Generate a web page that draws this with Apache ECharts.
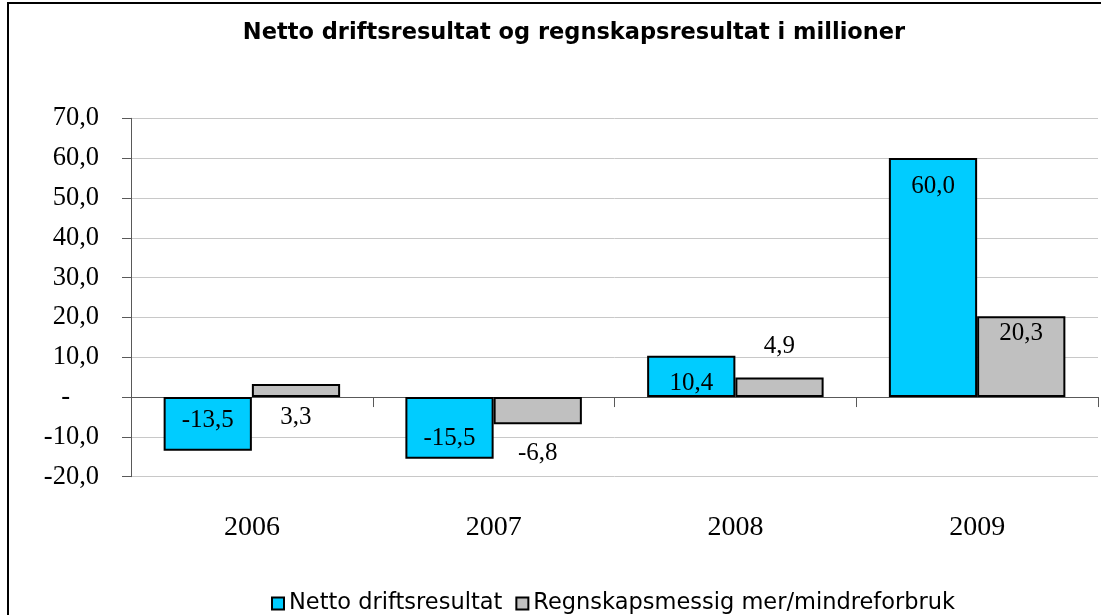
<!DOCTYPE html>
<html>
<head>
<meta charset="utf-8">
<script src="https://cdn.jsdelivr.net/npm/echarts@6/dist/echarts.min.js"></script>
<style>
  html, body { margin: 0; padding: 0; background: #fff; }
  #chart { width: 1101px; height: 615px; }
</style>
</head>
<body>
<div id="chart"></div>
<script>
const titleText = 'Netto driftsresultat og regnskapsresultat i millioner';
const categories = ['2006', '2007', '2008', '2009'];
const seriesNames = ['Netto driftsresultat', 'Regnskapsmessig mer/mindreforbruk'];
const nettoValues = [-13.5, -15.5, 10.4, 60.0];
const regnskapValues = [3.3, -6.8, 4.9, 20.3];
const yMin = -20, yMax = 70, yStep = 10;

const fmt = v => v.toFixed(1).replace('.', ',');
const serif = 'Liberation Serif';
const sans = 'DejaVu Sans';

// label placement per bar (layout, not data)
const nettoLabelPos = [
  { position: 'insideBottom', distance: 18 },
  { position: 'insideBottom', distance: 8 },
  { position: 'insideTop', distance: 15 },
  { position: 'insideTop', distance: 16 }
];
const regnskapLabelPos = [
  { position: 'bottom', distance: 8 },
  { position: 'bottom', distance: 17 },
  { position: 'top', distance: 19 },
  { position: 'insideTop', distance: 5 }
];

function buildData(values, placements) {
  return values.map((v, i) => ({
    value: v,
    label: placements[i]
  }));
}

const labelStyle = {
  show: true,
  fontFamily: serif,
  fontSize: 25,
  color: '#000',
  formatter: p => fmt(p.value)
};

const chart = echarts.init(document.getElementById('chart'), null, { renderer: 'canvas' });
chart.setOption({
  animation: false,
  backgroundColor: '#fff',
  title: {
    text: titleText,
    left: 569,
    top: 17,
    textAlign: 'center',
    textStyle: { fontFamily: sans, fontWeight: 'bold', fontSize: 22.5, color: '#000' }
  },
  graphic: [{
    type: 'polyline',
    x: 0, y: 0,
    shape: { points: [[8, 700], [8, 3], [1300, 3]] },
    style: { fill: 'none', stroke: '#000', lineWidth: 2 },
    silent: true,
    z: 100
  }],
  legend: {
    data: seriesNames,
    left: 266,
    top: 587,
    itemWidth: 12,
    itemHeight: 12,
    itemGap: 13,
    icon: 'rect',
    textStyle: { fontFamily: sans, fontSize: 22.5, color: '#000' }
  },
  grid: { left: 131, right: 3, top: 118.3, bottom: 138.3, containLabel: false },
  xAxis: [{
    type: 'category',
    data: categories,
    position: 'bottom',
    axisLine: { show: true, onZero: true, lineStyle: { color: '#595959', width: 1 } },
    axisTick: { show: true, length: 10, lineStyle: { color: '#595959' } },
    axisLabel: { show: false },
    splitLine: { show: false }
  }, {
    type: 'category',
    data: categories,
    position: 'bottom',
    axisLine: { show: false, onZero: false },
    axisTick: { show: false },
    axisLabel: { show: true, margin: 37, fontFamily: serif, fontSize: 28, color: '#000' },
    splitLine: { show: false }
  }],
  yAxis: {
    type: 'value',
    min: yMin, max: yMax, interval: yStep,
    axisLine: { show: true, lineStyle: { color: '#595959', width: 1 } },
    axisTick: { show: true, length: 9, lineStyle: { color: '#595959' } },
    splitLine: { show: true, lineStyle: { color: '#c8c8c8', width: 1 } },
    axisLabel: {
      margin: 32,
      fontFamily: serif,
      fontSize: 26.5,
      color: '#000',
      formatter: v => v === 0 ? '{z|-}' : fmt(v),
      rich: { z: { fontFamily: serif, fontSize: 26.5, color: '#000', padding: [0, 29, 0, 0] } }
    }
  },
  series: [{
    name: seriesNames[0],
    type: 'bar',
    xAxisIndex: 0,
    data: buildData(nettoValues, nettoLabelPos),
    barGap: '0%',
    barCategoryGap: '27%',
    itemStyle: { color: '#00CCFF', borderColor: '#000', borderWidth: 2 },
    label: labelStyle
  }, {
    name: seriesNames[1],
    type: 'bar',
    xAxisIndex: 0,
    data: buildData(regnskapValues, regnskapLabelPos),
    barGap: '0%',
    barCategoryGap: '27%',
    itemStyle: { color: '#C0C0C0', borderColor: '#000', borderWidth: 2 },
    label: labelStyle
  }]
});
</script>
</body>
</html>
